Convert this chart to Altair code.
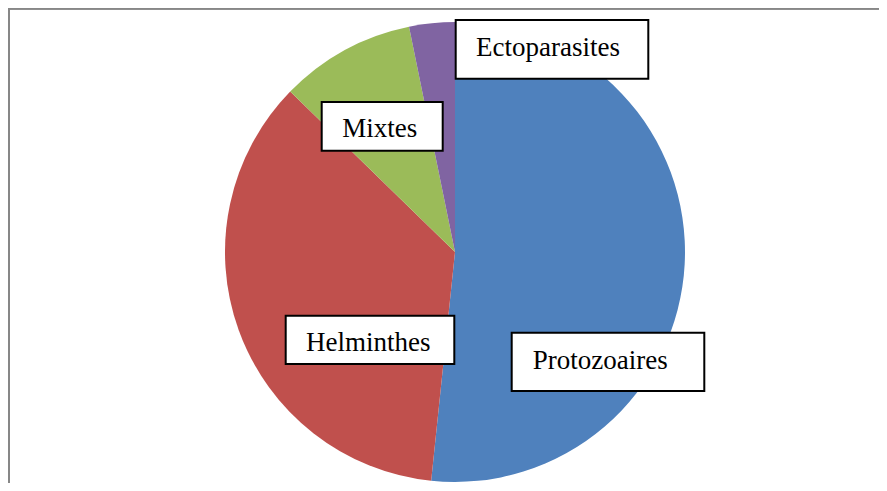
import altair as alt
import pandas as pd

# Data
categories = ["Protozoaires", "Helminthes", "Mixtes", "Ectoparasites"]
shares = [51.6, 35.6, 9.5, 3.2]
colors = ["#4F81BD", "#C0504D", "#9BBB59", "#8064A2"]

# Label box layout (pixel positions inside the chart)
box_x = [503.7, 277.7, 313.7, 447.7]
box_x2 = [696.3, 446.3, 434.7, 640.3]
box_y = [324.7, 307.7, 94.0, 12.0]
box_y2 = [383.0, 356.0, 142.7, 70.7]
text_x = [524.7, 298.0, 334.3, 468.0]
text_y = [361.0, 343.0, 128.7, 47.7]

W, H = 871, 475

df = pd.DataFrame({"cat": categories, "share": shares, "idx": list(range(len(categories)))})
lab = pd.DataFrame({
    "cat": categories, "x": box_x, "x2": box_x2, "y": box_y, "y2": box_y2,
    "tx": text_x, "ty": text_y,
})

pie = alt.Chart(df).mark_arc(radius=230).encode(
    theta=alt.Theta("share:Q", stack=True),
    color=alt.Color("cat:N", scale=alt.Scale(domain=categories, range=colors), legend=None),
    order=alt.Order("idx:Q"),
    x=alt.value(447),
    y=alt.value(244),
)

boxes = alt.Chart(lab).mark_rect(fill="white", stroke="black", strokeWidth=2).encode(
    x=alt.X("x:Q", scale=None, axis=None),
    x2="x2:Q",
    y=alt.Y("y:Q", scale=None, axis=None),
    y2="y2:Q",
)

texts = alt.Chart(lab).mark_text(
    font="'Liberation Serif', 'Times New Roman', serif", fontSize=27, color="black",
    align="left", baseline="alphabetic"
).encode(
    x=alt.X("tx:Q", scale=None, axis=None),
    y=alt.Y("ty:Q", scale=None, axis=None),
    text="cat:N",
)

left_border = alt.Chart(df).mark_rule(color="#878787", strokeWidth=2).encode(
    x=alt.value(1), y=alt.value(0), y2=alt.value(H)
)
top_border = alt.Chart(df).mark_rule(color="#878787", strokeWidth=2).encode(
    y=alt.value(0.5), x=alt.value(0), x2=alt.value(W)
)

chart = alt.layer(pie, boxes, texts, left_border, top_border).properties(
    width=W, height=H, autosize=alt.AutoSizeParams(type="none"), padding=0
).configure_view(stroke=None)

chart.save("out.html", embed_options={"renderer": "svg", "actions": False})
